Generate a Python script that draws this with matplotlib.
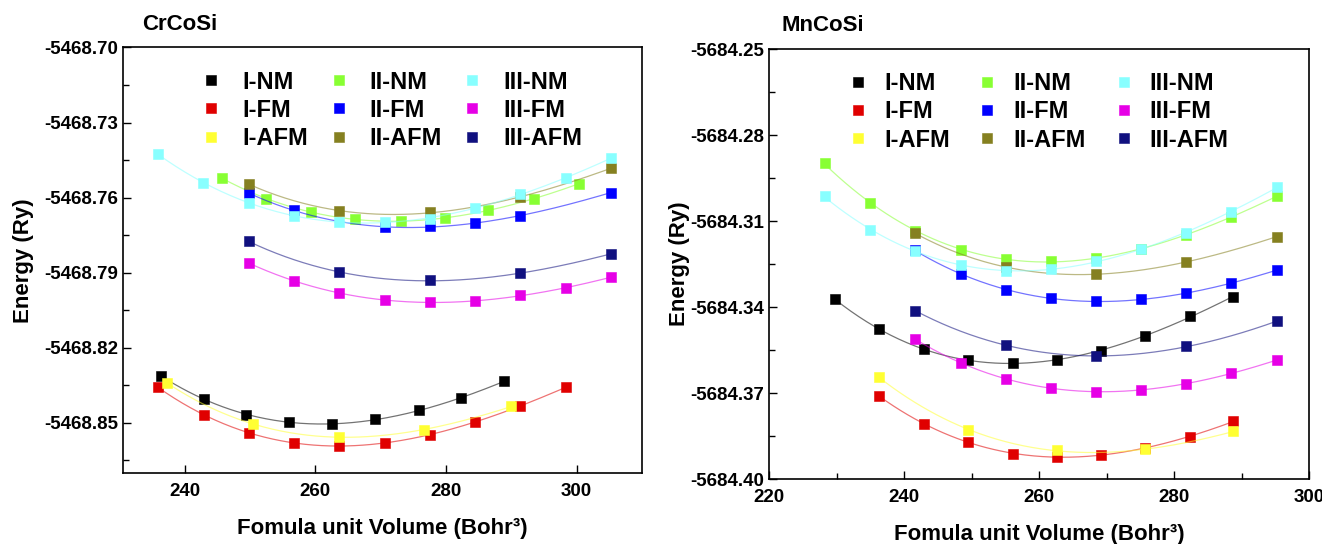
import numpy as np
import matplotlib
matplotlib.use("Agg")
import matplotlib.pyplot as plt
from matplotlib.ticker import MultipleLocator, FormatStrFormatter

plt.rcParams["font.family"] = ["Liberation Sans", "DejaVu Sans"]
plt.rcParams["font.weight"] = "bold"

# ---- CrCoSi: volume (Bohr^3) and total energy offset below -5468.70 Ry ----
cr_base = -5468.70
cr_v_inm = [236.3, 243.0, 249.4, 256.0, 262.6, 269.2, 275.8, 282.3, 288.9]
cr_e_inm = [0.1312, 0.1405, 0.1468, 0.1497, 0.1505, 0.1487, 0.1451, 0.1401, 0.1334]
cr_v_ifm = [235.9, 242.9, 249.8, 256.7, 263.6, 270.6, 277.5, 284.4, 291.4, 298.3]
cr_e_ifm = [0.1358, 0.1468, 0.1541, 0.1580, 0.1593, 0.1580, 0.1548, 0.1497, 0.1434, 0.1358]
cr_v_iafm = [237.3, 250.4, 263.6, 276.7, 290.0]
cr_e_iafm = [0.1341, 0.1505, 0.1557, 0.1527, 0.1435]
cr_v_iinm = [245.7, 252.5, 259.4, 266.1, 273.1, 279.8, 286.5, 293.4, 300.3]
cr_e_iinm = [0.0522, 0.0605, 0.0658, 0.0686, 0.0695, 0.0682, 0.0650, 0.0605, 0.0545]
cr_v_iifm = [249.8, 256.7, 270.6, 277.5, 284.4, 291.4, 305.2]
cr_e_iifm = [0.0582, 0.0651, 0.0719, 0.0715, 0.0702, 0.0673, 0.0580]
cr_v_iiafm = [249.8, 263.6, 277.5, 291.4, 305.2]
cr_e_iiafm = [0.0546, 0.0653, 0.0659, 0.0598, 0.0483]
cr_v_iiinm = [235.9, 242.8, 249.8, 256.7, 263.6, 270.6, 277.5, 284.4, 291.4, 298.3, 305.2]
cr_e_iiinm = [0.0426, 0.0540, 0.0622, 0.0673, 0.0696, 0.0696, 0.0686, 0.0642, 0.0586, 0.0522, 0.0443]
cr_v_iiifm = [249.8, 256.7, 263.6, 270.6, 277.5, 284.4, 291.4, 298.3, 305.2]
cr_e_iiifm = [0.0861, 0.0934, 0.0980, 0.1010, 0.1018, 0.1014, 0.0991, 0.0962, 0.0918]
cr_v_iiiafm = [249.8, 263.6, 277.5, 291.4, 305.2]
cr_e_iiiafm = [0.0775, 0.0898, 0.0931, 0.0903, 0.0825]

# ---- MnCoSi: volume (Bohr^3) and total energy offset below -5684.25 Ry ----
mn_base = -5684.25
mn_v_inm = [229.7, 236.3, 242.9, 249.5, 256.1, 262.6, 269.2, 275.7, 282.3, 288.8]
mn_e_inm = [0.0873, 0.0975, 0.1046, 0.1085, 0.1096, 0.1084, 0.1052, 0.0999, 0.0931, 0.0864]
mn_v_ifm = [236.3, 242.9, 249.5, 256.1, 262.6, 269.2, 275.7, 282.3, 288.8]
mn_e_ifm = [0.1210, 0.1307, 0.1370, 0.1410, 0.1422, 0.1416, 0.1390, 0.1351, 0.1298]
mn_v_iafm = [236.3, 249.5, 262.6, 275.7, 288.8]
mn_e_iafm = [0.1145, 0.1327, 0.1399, 0.1396, 0.1333]
mn_v_iinm = [228.2, 234.9, 241.6, 248.4, 255.1, 261.8, 268.4, 275.1, 281.8, 288.5, 295.2]
mn_e_iinm = [0.0399, 0.0536, 0.0634, 0.0699, 0.0731, 0.0739, 0.0729, 0.0698, 0.0648, 0.0587, 0.0512]
mn_v_iifm = [241.6, 248.4, 255.1, 261.8, 268.4, 275.1, 281.8, 288.5, 295.2]
mn_e_iifm = [0.0702, 0.0784, 0.0840, 0.0869, 0.0879, 0.0872, 0.0852, 0.0817, 0.0770]
mn_v_iiafm = [241.6, 255.1, 268.4, 281.8, 295.2]
mn_e_iiafm = [0.0642, 0.0761, 0.0784, 0.0743, 0.0654]
mn_v_iiinm = [228.2, 234.9, 241.6, 248.4, 255.1, 261.8, 268.4, 275.1, 281.8, 288.5, 295.2]
mn_e_iiinm = [0.0514, 0.0630, 0.0705, 0.0752, 0.0773, 0.0767, 0.0740, 0.0698, 0.0640, 0.0567, 0.0482]
mn_v_iiifm = [241.6, 248.4, 255.1, 261.8, 268.4, 275.1, 281.8, 288.5, 295.2]
mn_e_iiifm = [0.1011, 0.1094, 0.1151, 0.1182, 0.1194, 0.1188, 0.1167, 0.1131, 0.1084]
mn_v_iiiafm = [241.6, 255.1, 268.4, 281.8, 295.2]
mn_e_iiiafm = [0.0912, 0.1032, 0.1071, 0.1037, 0.0949]

labels = ["I-NM", "I-FM", "I-AFM", "II-NM", "II-FM", "II-AFM", "III-NM", "III-FM", "III-AFM"]
colors = ["#000000", "#E00000", "#FFFF33", "#88FF33", "#0000FF", "#858020",
          "#88FFFF", "#E600E6", "#10107F"]

cr_series = [(cr_v_inm, cr_e_inm), (cr_v_ifm, cr_e_ifm), (cr_v_iafm, cr_e_iafm),
             (cr_v_iinm, cr_e_iinm), (cr_v_iifm, cr_e_iifm), (cr_v_iiafm, cr_e_iiafm),
             (cr_v_iiinm, cr_e_iiinm), (cr_v_iiifm, cr_e_iiifm), (cr_v_iiiafm, cr_e_iiiafm)]
mn_series = [(mn_v_inm, mn_e_inm), (mn_v_ifm, mn_e_ifm), (mn_v_iafm, mn_e_iafm),
             (mn_v_iinm, mn_e_iinm), (mn_v_iifm, mn_e_iifm), (mn_v_iiafm, mn_e_iiafm),
             (mn_v_iiinm, mn_e_iiinm), (mn_v_iiifm, mn_e_iiifm), (mn_v_iiiafm, mn_e_iiiafm)]


def draw_panel(ax, series, base, title, title_x, leg_x, textpad, colspace):
    for (v, e), lab, col in zip(series, labels, colors):
        v = np.asarray(v)
        energy = base - np.asarray(e)
        # smooth E(V) fit through the computed points
        vc = v.mean()
        coef = np.polyfit(v - vc, energy - base, 3)
        vv = np.linspace(v.min(), v.max(), 200)
        ax.plot(vv, base + np.polyval(coef, vv - vc), color=col, lw=0.9, alpha=0.55)
        ax.plot(v, energy, ls="none", marker="s", ms=7, color=col,
                mec=col, mew=0.4, label=lab)

    ax.xaxis.set_major_locator(MultipleLocator(20))
    ax.yaxis.set_major_locator(MultipleLocator(0.03))
    ax.yaxis.set_minor_locator(MultipleLocator(0.015))
    ax.yaxis.set_major_formatter(FormatStrFormatter("%.2f"))
    ax.tick_params(which="both", direction="in", top=False, right=False,
                   labelsize=13.5, width=1.0)
    ax.tick_params(which="major", length=6)
    ax.tick_params(which="minor", length=4)
    ax.tick_params(axis="x", pad=7)
    ax.tick_params(axis="y", pad=3.5)
    for sp in ax.spines.values():
        sp.set_linewidth(1.2)

    ax.set_ylabel("Energy (Ry)", fontsize=16, fontweight="bold")
    ax.set_xlabel("Fomula unit Volume (Bohr³)", fontsize=16, fontweight="bold")
    ax.text(title_x, 1.055, title, transform=ax.transAxes, fontsize=16,
            fontweight="bold", ha="left", va="center")

    leg = ax.legend(loc="upper left", bbox_to_anchor=(leg_x, 0.968), ncol=3,
                    frameon=False, fontsize=17, handlelength=1.0,
                    handletextpad=textpad, columnspacing=colspace,
                    labelspacing=0.22, borderaxespad=0.0)
    for t in leg.get_texts():
        t.set_fontweight("bold")


def bold_ticks(ax):
    for tick in ax.xaxis.get_major_ticks() + ax.yaxis.get_major_ticks():
        tick.label1.set_fontweight("bold")


fig = plt.figure(figsize=(13.22, 5.44), dpi=100)
ax1 = fig.add_axes([0.0928, 0.130, 0.3928, 0.7827])
ax2 = fig.add_axes([0.5819, 0.1189, 0.4083, 0.7910])

draw_panel(ax1, cr_series, cr_base, "CrCoSi", 0.038, 0.13, 0.8, 0.8)
ax1.set_xlim(230.5, 310)
ax1.set_ylim(-5468.8702, -5468.70)
ax1.yaxis.set_label_coords(-0.17, 0.5)
ax1.xaxis.labelpad = 13

draw_panel(ax2, mn_series, mn_base, "MnCoSi", 0.023, 0.125, 0.6, 1.1)
ax2.xaxis.set_minor_locator(MultipleLocator(10))
ax2.set_xlim(220, 300)
ax2.set_ylim(-5684.40, -5684.25)
ax2.yaxis.set_label_coords(-0.147, 0.5)
ax2.xaxis.labelpad = 13

fig.canvas.draw()
bold_ticks(ax1)
bold_ticks(ax2)

fig.savefig("out.png", dpi=100)
